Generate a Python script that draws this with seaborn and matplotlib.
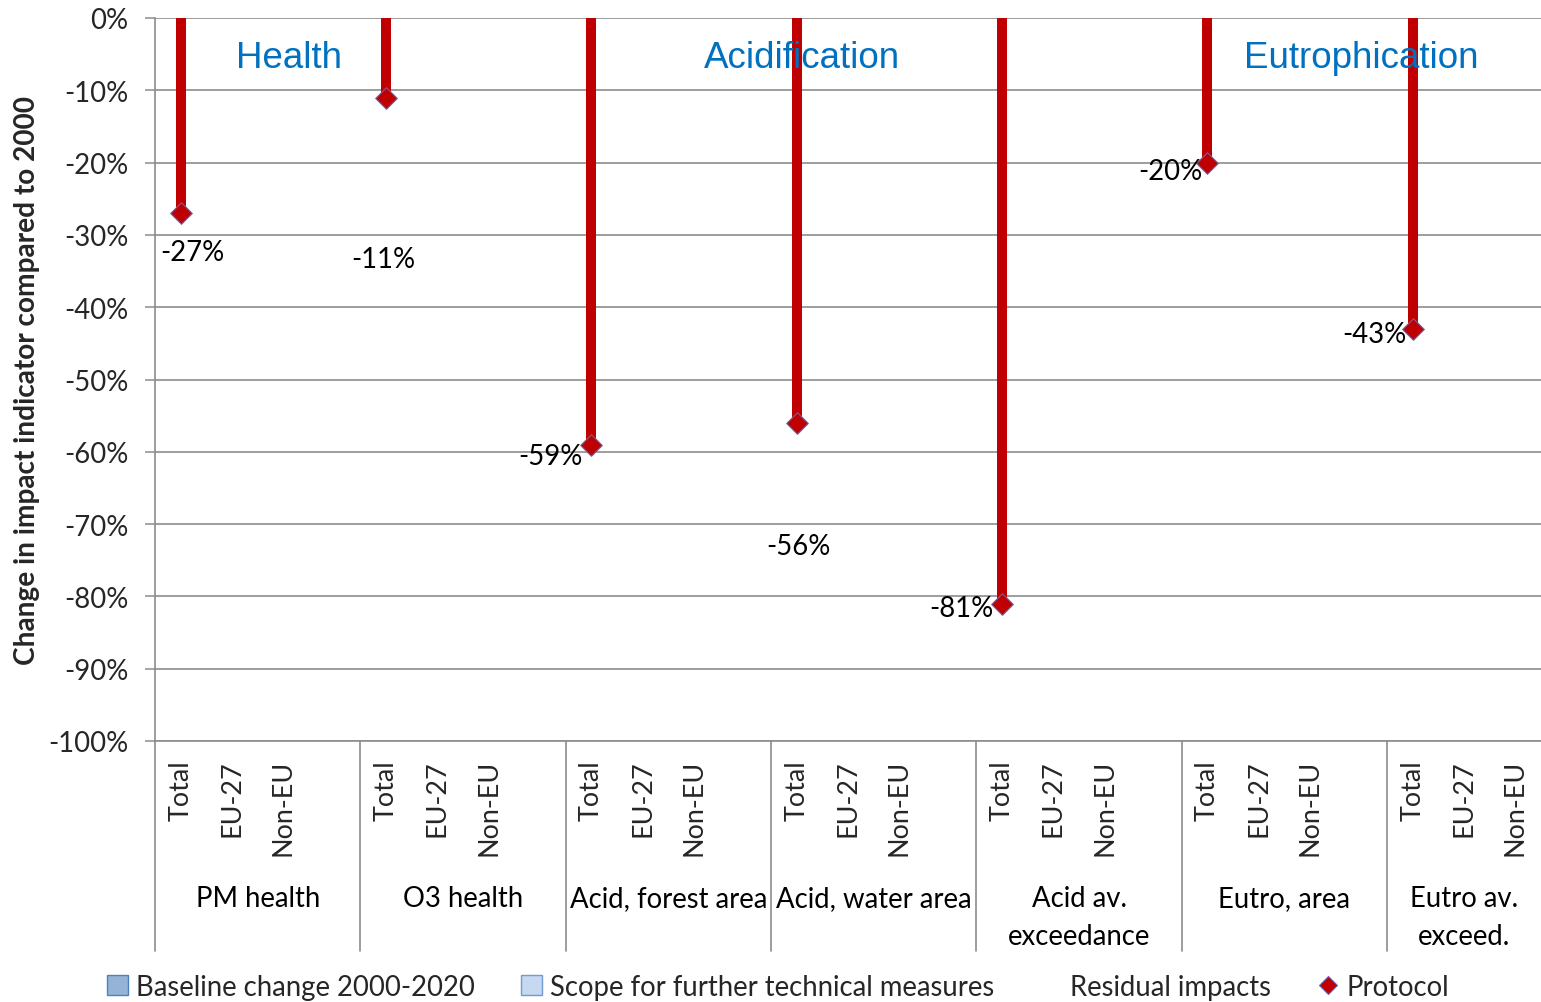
import numpy as np
import pandas as pd
import matplotlib
matplotlib.use("Agg")
import matplotlib.pyplot as plt
import matplotlib.transforms as mtransforms
from matplotlib.patches import Patch
from matplotlib.lines import Line2D
import seaborn as sns

# ---- data -------------------------------------------------------------
indicators = ["PM health", "O3 health", "Acid, forest area", "Acid, water area",
              "Acid av.\nexceedance", "Eutro, area", "Eutro av.\nexceed."]
regions = ["Total", "EU-27", "Non-EU"]
# protocol change (%) for the "Total" region of each indicator
protocol_total = [-27, -11, -59, -56, -81, -20, -43]
effect_groups = ["Health", "Acidification", "Eutrophication"]
legend_labels = ["Baseline change 2000-2020", "Scope for further technical measures",
                 "Residual impacts", "Protocol"]
y_ticks = [0, -10, -20, -30, -40, -50, -60, -70, -80, -90, -100]

# ---- layout ----------------------------------------------------------
# label offsets from the marker, in pixels (dx, dy)
label_offsets = [(12, -39), (-3, -161), (-41, -11), (2, -123),
                 (-41, -4), (-37, -8), (-38, -5)]
# effect group headings: (slot position, y value)
heading_pos = [(2.11, -5.5), (12.1, -5.5), (23.0, -5.5)]

# category slots: three regions per indicator plus a spacer between indicators
slots, slot_labels = [], []
for i, ind in enumerate(indicators):
    for r in regions:
        slots.append(f"{ind}|{r}")
        slot_labels.append(r)
    if i < len(indicators) - 1:
        slots.append(f"{ind}|gap")
        slot_labels.append("")

df = pd.DataFrame({
    "slot": [f"{ind}|Total" for ind in indicators],
    "change": protocol_total,
})

# ---- style -----------------------------------------------------------
sns.set_theme(style="white")
plt.rcParams["font.family"] = ["Lato", "DejaVu Sans"]
RED = "#C00000"
GRID = "#8C8C8C"
BLUE_TXT = "#0070C0"
FS = 19.8

fig = plt.figure(figsize=(15.41, 10.03), dpi=100)
ax = fig.add_axes([155 / 1541, 1 - 742 / 1003, (1541 - 155) / 1541, (742 - 19) / 1003])

sns.barplot(data=df, x="slot", y="change", order=slots, color=RED,
            width=0.2, saturation=1, ax=ax, zorder=3, linewidth=0)
sns.stripplot(data=df, x="slot", y="change", order=slots, color=RED,
              marker="D", size=11, jitter=False, linewidth=0.8,
              edgecolor="#7060A8", ax=ax, zorder=5)

ax.set_xlim(-0.5, len(slots) - 0.5)
ax.set_ylim(-100, 0)
ax.set_yticks(y_ticks)
ax.set_yticklabels([f"{v}%" for v in y_ticks], fontsize=FS)
ax.yaxis.grid(True, color=GRID, linewidth=1.2, zorder=0)
ax.set_axisbelow(True)
ax.tick_params(axis="y", which="major", left=True, length=7, width=1.1,
               color=GRID, pad=12)
ax.set_xticks(range(len(slots)))
ax.set_xticklabels(slot_labels, rotation=90, fontsize=19.4, va="top", ha="center")
ax.tick_params(axis="x", length=0, pad=13)
ax.set_xlabel("")
ax.set_ylabel("Change in impact indicator compared to 2000",
              fontsize=20.2, fontweight="bold")
ax.yaxis.set_label_coords(-0.083, 0.5)

for side in ["top", "right"]:
    ax.spines[side].set_visible(False)
for side in ["left", "bottom"]:
    ax.spines[side].set_color(GRID)
    ax.spines[side].set_linewidth(1.2)

# category axis: group dividers extending below the plot, with indicator names
trans = mtransforms.blended_transform_factory(ax.transData, ax.transAxes)
px = 1.0 / (742 - 19)
y_low = (742 - 952) * px
for g, name in enumerate(indicators):
    xb = 4 * g - 0.5
    ax.plot([xb, xb], [0, y_low], color=GRID, linewidth=1.2,
            transform=trans, clip_on=False)
    centre = 4 * g + (1 if g == len(indicators) - 1 else 1.5)
    ax.text(centre, (742 - 886) * px, name, transform=trans,
            ha="center", va="top", fontsize=FS, linespacing=1.55,
            color="black")

# value labels next to each protocol marker
for ind, v, (dx, dy) in zip(indicators, protocol_total, label_offsets):
    ax.annotate(f"{v}%", xy=(slots.index(f"{ind}|Total"), v),
                xytext=(dx, dy), textcoords="offset pixels",
                ha="center", va="center", fontsize=FS, color="black", zorder=6)

# effect group headings
for name, (hx, hy) in zip(effect_groups, heading_pos):
    ax.text(hx, hy, name, ha="center", va="center", fontsize=26.5,
            color=BLUE_TXT, family=["Liberation Sans", "DejaVu Sans"], zorder=6)

# legend
handles = [
    Patch(facecolor="#95B3D7", edgecolor="#4F81BD", linewidth=1.0),
    Patch(facecolor="#C6D9F1", edgecolor="#6F9BD1", linewidth=1.0),
    Patch(facecolor="none", edgecolor="none"),
    Line2D([], [], linestyle="none", marker="D", markersize=9,
           markerfacecolor=RED, markeredgecolor="#7060A8", markeredgewidth=0.8),
]
fig.legend(handles, legend_labels, loc="center", bbox_to_anchor=(0.505, 1 - 988 / 1003),
           ncol=4, frameon=False, fontsize=FS, handlelength=0.75, handleheight=0.75,
           handletextpad=0.3, columnspacing=1.7)

fig.savefig("out.png", dpi=100)
